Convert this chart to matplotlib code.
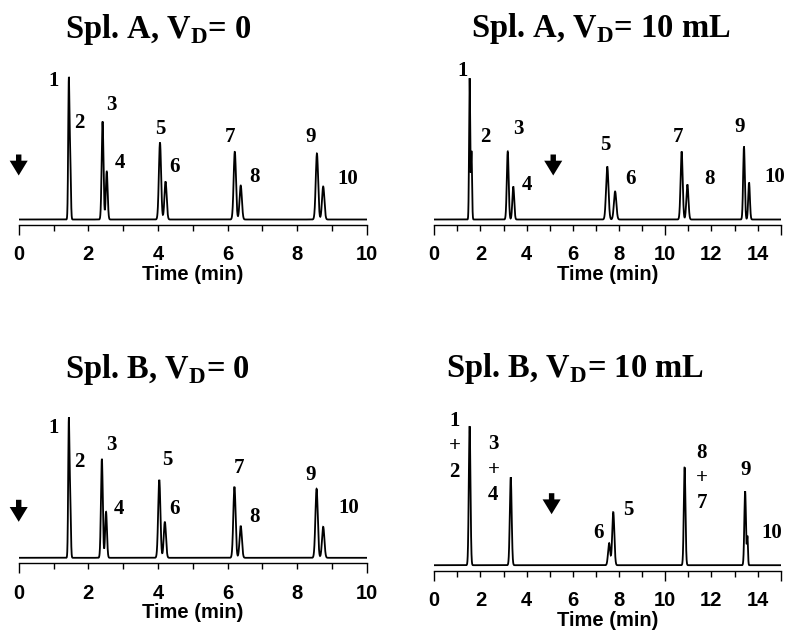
"""
Four chromatograms: samples A and B, run with and without a 10 mL
delay volume (V_D).  Peaks are drawn as Gaussians from the retention
times / heights / widths read off the original figure.
"""

import numpy as np
import matplotlib
matplotlib.use('Agg')
import matplotlib.pyplot as plt


# ── Style ─────────────────────────────────────────────────────────────────────

plt.rcParams.update({
    'font.family':        'Liberation Sans',
    'font.weight':        'bold',
    'axes.labelweight':   'bold',
    'mathtext.fontset':   'custom',
    'mathtext.rm':        'Liberation Serif:bold',
    'mathtext.bf':        'Liberation Serif:bold',
    'axes.linewidth':     1.0,
})

SERIF = 'Liberation Serif'
TRACE_LW = 1.3
AXIS_FS = 14.5
PEAK_FS = 15
ARROW_STYLE = 'simple,head_length=0.82,head_width=1.0,tail_width=0.3'

# ── Peak tables (retention time in min, height, sigma in min) ─────────────────

A0_TIMES   = [1.44, 1.48, 2.41, 2.53, 4.06, 4.22, 6.21, 6.38, 8.57, 8.75]
A0_HEIGHTS = [137, 60, 98, 48, 77, 38, 68, 34, 66, 33]
A0_SIGMAS  = [0.018, 0.018, 0.026, 0.026, 0.032, 0.032, 0.033, 0.033, 0.034, 0.034]

A10_TIMES   = [1.53, 1.61, 3.18, 3.42, 7.49, 7.83, 10.71, 10.96, 13.41, 13.63]
A10_HEIGHTS = [141, 68, 68, 33, 53, 28, 68, 35, 73, 37]
A10_SIGMAS  = [0.024, 0.024, 0.040, 0.040, 0.052, 0.052, 0.045, 0.045, 0.036, 0.036]

B0_TIMES   = [1.44, 1.48, 2.39, 2.51, 4.04, 4.20, 6.20, 6.38, 8.56, 8.75]
B0_HEIGHTS = [135, 58, 99, 46, 78, 36, 71, 32, 69, 31]
B0_SIGMAS  = [0.018, 0.018, 0.026, 0.026, 0.032, 0.032, 0.033, 0.033, 0.034, 0.034]

# co-eluting pairs (1+2, 3+4, 8+7) are single peaks here
B10_TIMES   = [1.53, 3.31, 7.57, 7.75, 10.84, 13.46, 13.56]
B10_HEIGHTS = [139, 88, 22, 53, 98, 74, 28]
B10_SIGMAS  = [0.036, 0.040, 0.046, 0.046, 0.036, 0.035, 0.022]

# ── Peak annotations ─────────────────────────────────────────────────────────

A0_LABELS  = ['1', '2', '3', '4', '5', '6', '7', '8', '9', '10']
A0_LABEL_X = [0.99, 1.73, 2.65, 2.91, 4.06, 4.49, 6.07, 6.79, 8.40, 9.46]
A0_LABEL_Y = [138, 97, 114, 57, 90, 53, 82, 42, 83, 40]

A10_LABELS  = ['1', '2', '3', '4', '5', '6', '7', '8', '9', '10']
A10_LABEL_X = [1.23, 2.20, 3.64, 4.03, 7.39, 8.48, 10.54, 11.90, 13.24, 14.75]
A10_LABEL_Y = [148, 82, 90, 35, 74, 41, 83, 41, 92, 42]

B0_LABELS  = ['1', '2', '3', '4', '5', '6', '7', '8', '9', '10']
B0_LABEL_X = [0.99, 1.73, 2.65, 2.89, 4.27, 4.49, 6.33, 6.79, 8.39, 9.47]
B0_LABEL_Y = [130, 96, 113, 49, 98, 49, 90, 41, 83, 50]

B10_LABELS  = ['1', '+', '2', '3', '+', '4', '6', '5', '8', '+', '7', '9', '10']
B10_LABEL_X = [0.87, 0.87, 0.87, 2.56, 2.56, 2.56, 7.10, 8.40, 11.58, 11.58, 11.58, 13.49, 14.61]
B10_LABEL_Y = [144, 119, 93, 121, 95, 70, 32, 55, 112, 87, 62, 95, 32]

# valve-switch arrows: time, top, tip
A0_ARROW  = (0.0, 65, 44)
A10_ARROW = (5.15, 65, 44)
B0_ARROW  = (0.0, 58, 36)
B10_ARROW = (5.08, 72, 51)

TITLES = [
    r'Spl. A, $\mathbf{V}_\mathbf{D}$= 0',
    r'Spl. A, $\mathbf{V}_\mathbf{D}$= 10 mL',
    r'Spl. B, $\mathbf{V}_\mathbf{D}$= 0',
    r'Spl. B, $\mathbf{V}_\mathbf{D}$= 10 mL',
]

# ── Layout (figure pixels: left, width, spine y from top; title x, baseline) ─

W, H = 790, 631


def _axes_rect(left, width, spine_y, height=155.5):
    return [left / W, (H - spine_y) / H, width / W, height / H]


def chromatogram(t, times, heights, sigmas):
    y = np.zeros_like(t)
    for t0, h, s in zip(times, heights, sigmas):
        y += h * np.exp(-0.5 * ((t - t0) / s) ** 2)
    return y


def draw_panel(ax, t_max, times, heights, sigmas, labels, lx, ly, arrow):
    t = np.linspace(0, t_max, 8000)
    ax.plot(t, chromatogram(t, times, heights, sigmas), color='black',
            lw=TRACE_LW, solid_joinstyle='miter')

    for txt, x, y in zip(labels, lx, ly):
        ax.text(x, y, txt, ha='center', va='center', family=SERIF,
                fontsize=PEAK_FS, fontweight='bold')

    at, atop, atip = arrow
    ax.annotate('', xy=(at, atip), xytext=(at, atop),
                arrowprops=dict(arrowstyle=ARROW_STYLE,
                                fc='black', ec='none', lw=0,
                                shrinkA=0, shrinkB=0, mutation_scale=13),
                annotation_clip=False)

    ax.set_xlim(0, t_max)
    ax.set_ylim(-5.5, 150)
    major = np.arange(0, t_max + 1, 2)
    ax.set_xticks(major, labels=[str(int(v)) for v in major])
    ax.set_xticks(np.arange(0, t_max + 1, 1), minor=True)
    ax.tick_params(axis='x', which='both', direction='out', length=4.3,
                   width=1.0, pad=10.3, labelsize=AXIS_FS)
    ax.tick_params(axis='y', left=False, labelleft=False)
    for side in ('top', 'left', 'right'):
        ax.spines[side].set_visible(False)

    # longer ticks at 0, 10 and the right end
    long_locs = {0, 10, t_max}
    for loc, tick in zip(ax.xaxis.get_majorticklocs(), ax.xaxis.get_major_ticks()):
        if loc in long_locs:
            tick.tick1line.set_markersize(7.5)
    for loc, tick in zip(ax.xaxis.get_minorticklocs(), ax.xaxis.get_minor_ticks()):
        if loc in long_locs:
            tick.tick1line.set_markersize(7.5)

    ax.set_xlabel('Time (min)', fontsize=AXIS_FS, labelpad=0.5)


fig = plt.figure(figsize=(W / 100, H / 100), dpi=100)

panels = [
    (_axes_rect(18.7, 348.0, 225.0), 10, A0_TIMES, A0_HEIGHTS, A0_SIGMAS,
     A0_LABELS, A0_LABEL_X, A0_LABEL_Y, A0_ARROW, (158.5, 38.0)),
    (_axes_rect(434.3, 346.4, 225.0), 15, A10_TIMES, A10_HEIGHTS, A10_SIGMAS,
     A10_LABELS, A10_LABEL_X, A10_LABEL_Y, A10_ARROW, (600.5, 37.5)),
    (_axes_rect(18.7, 348.0, 563.3), 10, B0_TIMES, B0_HEIGHTS, B0_SIGMAS,
     B0_LABELS, B0_LABEL_X, B0_LABEL_Y, B0_ARROW, (157.5, 378.3)),
    (_axes_rect(434.3, 346.4, 570.7), 15, B10_TIMES, B10_HEIGHTS, B10_SIGMAS,
     B10_LABELS, B10_LABEL_X, B10_LABEL_Y, B10_ARROW, (575.0, 376.7)),
]

for (rect, t_max, times, heights, sigmas, labels, lx, ly, arrow, tpos), title in zip(panels, TITLES):
    ax = fig.add_axes(rect)
    draw_panel(ax, t_max, times, heights, sigmas, labels, lx, ly, arrow)
    fig.text(tpos[0] / W, (H - tpos[1]) / H, title, ha='center', va='baseline',
             family=SERIF, fontsize=23.5, fontweight='bold')

fig.savefig('out.png', dpi=100)
